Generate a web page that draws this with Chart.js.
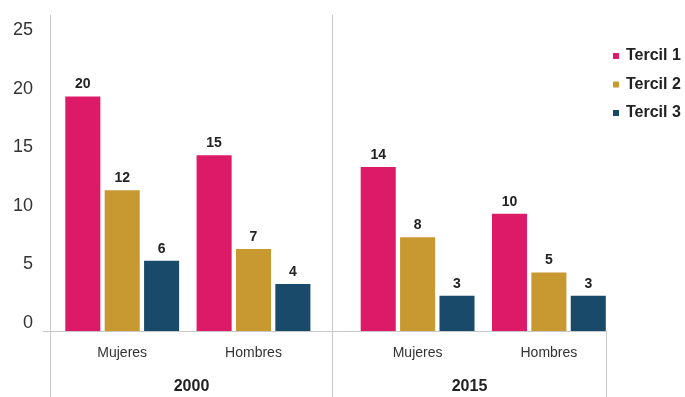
<!DOCTYPE html>
<html>
<head>
<meta charset="utf-8">
<script src="https://cdn.jsdelivr.net/npm/chart.js@4/dist/chart.umd.min.js"></script>
<style>
  html, body { margin: 0; padding: 0; background: #fff; }
</style>
</head>
<body>
<canvas id="tercil_chart" width="685" height="397"></canvas>
<script>
const categories = ["Mujeres", "Hombres", "Mujeres", "Hombres"];
const years = ["2000", "2015"];
const tercil_names = ["Tercil 1", "Tercil 2", "Tercil 3"];
const tercil1 = [20, 15, 14, 10];
const tercil2 = [12, 7, 8, 5];
const tercil3 = [6, 4, 3, 3];
const y_ticks = [0, 5, 10, 15, 20, 25];

const colors = ["#dd1a68", "#c79930", "#1a4a6a"];
const font_family = "'Liberation Sans', Arial, Helvetica, sans-serif";
const line_color = "#c8c8c8";

// two categories per year, a bit of extra room between the years
const per_year = 2;
const year_gap = 0.25;
function x_pos(i) {
  return i + Math.floor(i / per_year) * year_gap;
}

const series = [tercil1, tercil2, tercil3];
const datasets = series.map((values, k) => ({
  label: tercil_names[k],
  data: values.map((v, i) => ({ x: x_pos(i), y: v })),
  backgroundColor: colors[k],
  barPercentage: 0.89,
  categoryPercentage: 0.9,
}));

// year dividers, axis line, year labels, legend and value labels
const extras = {
  id: "extras",
  afterDatasetsDraw(chart) {
    const ctx = chart.ctx;
    ctx.save();
    ctx.fillStyle = "#222";
    ctx.font = "bold 14px " + font_family;
    ctx.textAlign = "center";
    ctx.textBaseline = "middle";
    chart.data.datasets.forEach((ds, k) => {
      const meta = chart.getDatasetMeta(k);
      meta.data.forEach((bar, i) => {
        ctx.fillText(String(ds.data[i].y), bar.x, bar.y - 12);
      });
    });
    ctx.restore();
  },
  afterDraw(chart) {
    const { ctx, chartArea } = chart;
    const x = chart.scales.x;
    const bottom = chart.height;

    const bounds = [x.min];
    for (let g = 1; g < years.length; g++) {
      bounds.push(x_pos(g * per_year - 1) + 0.6);
    }
    bounds.push(x.max);
    const px = bounds.map((b) => Math.round(x.getPixelForValue(b)) + 0.5);

    ctx.save();
    ctx.strokeStyle = line_color;
    ctx.lineWidth = 1;
    ctx.beginPath();
    for (let g = 0; g < years.length; g++) {
      ctx.moveTo(px[g], chartArea.top - 23);
      ctx.lineTo(px[g], bottom);
    }
    ctx.moveTo(px[px.length - 1], chartArea.bottom);
    ctx.lineTo(px[px.length - 1], bottom);
    const base = Math.round(chartArea.bottom) + 0.5;
    ctx.moveTo(chartArea.left - 7, base);
    ctx.lineTo(px[px.length - 1], base);
    ctx.stroke();

    ctx.fillStyle = "#222";
    ctx.font = "bold 16px " + font_family;
    ctx.textAlign = "center";
    ctx.textBaseline = "middle";
    for (let g = 0; g < years.length; g++) {
      ctx.fillText(years[g], (px[g] + px[g + 1]) / 2, chartArea.bottom + 56);
    }

    // legend
    ctx.font = "bold 16px " + font_family;
    ctx.textAlign = "left";
    chart.data.datasets.forEach((ds, k) => {
      const cy = 56 + k * 28.5;
      ctx.fillStyle = ds.backgroundColor;
      ctx.fillRect(613, cy - 3, 6, 6);
      ctx.fillStyle = "#222";
      ctx.fillText(ds.label, 626, cy);
    });
    ctx.restore();
  },
};

const tercil_chart = new Chart(document.getElementById("tercil_chart"), {
  type: "bar",
  data: { datasets: datasets },
  plugins: [extras],
  options: {
    responsive: false,
    animation: false,
    layout: {
      padding: { top: 38, right: 79, left: 0, bottom: 0 },
    },
    plugins: {
      legend: { display: false },
      tooltip: { enabled: false },
    },
    scales: {
      x: {
        type: "linear",
        bounds: "data",
        offset: false,
        min: -0.55,
        max: x_pos(categories.length - 1) + 0.435,
        grid: { display: false, drawTicks: false },
        border: { display: false },
        afterBuildTicks(scale) {
          scale.ticks = categories.map((c, i) => ({ value: x_pos(i) }));
        },
        afterFit(scale) {
          scale.height = 66;
        },
        ticks: {
          autoSkip: false,
          maxRotation: 0,
          padding: 14,
          color: "#333",
          font: { family: font_family, size: 14 },
          callback: (value, index) => categories[index],
        },
      },
      y: {
        min: 0,
        max: 25,
        grid: { display: false, drawTicks: false },
        border: { display: false },
        afterBuildTicks(scale) {
          scale.ticks = y_ticks.map((v) => ({ value: v }));
        },
        afterFit(scale) {
          scale.width = 50;
        },
        ticks: {
          padding: 17,
          labelOffset: -8,
          color: "#333",
          font: { family: font_family, size: 18 },
        },
      },
    },
  },
});
</script>
</body>
</html>
